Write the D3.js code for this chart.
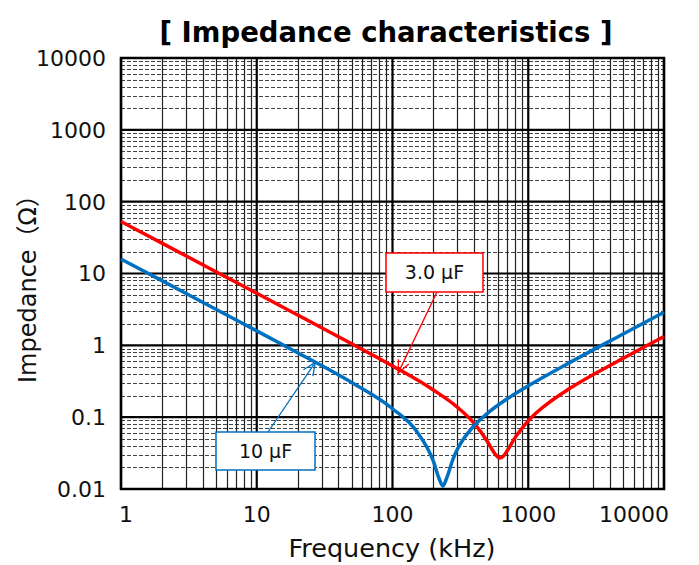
<!DOCTYPE html>
<html>
<head>
<meta charset="utf-8">
<script src="https://cdn.jsdelivr.net/npm/d3@7"></script>
<style>
  body { margin: 0; background: #fff; }
  text { font-family: "DejaVu Sans", Verdana, "Noto Sans CJK JP", sans-serif; }
</style>
</head>
<body>
<div id="chart"></div>
<script>
// Données (fréquence en kHz, impédance en ohms)
const freq10uF = [1, 2, 5, 10, 20, 50, 100, 150, 200, 220, 235, 250, 280, 300, 400, 500, 700, 1000, 2000, 5000, 10000];
const z10uF    = [15.9, 7.96, 3.18, 1.59, 0.79, 0.304, 0.131, 0.064, 0.0244, 0.0141, 0.011, 0.014, 0.0265, 0.0354, 0.0766, 0.113, 0.18, 0.273, 0.57, 1.44, 2.89];

const freq3uF = [1, 2, 5, 10, 20, 50, 100, 200, 300, 400, 500, 560, 600, 620, 650, 700, 800, 1000, 1500, 2000, 5000, 10000];
const z3uF    = [53.0, 26.5, 10.6, 5.3, 2.65, 1.054, 0.517, 0.239, 0.138, 0.082, 0.0458, 0.0321, 0.0276, 0.027, 0.0282, 0.0341, 0.0519, 0.089, 0.172, 0.248, 0.66, 1.33];

const xTicks = [1, 10, 100, 1000, 10000];
const yTicks = [0.01, 0.1, 1, 10, 100, 1000, 10000];

const width = 699;
const height = 565;
const margin = { top: 58, right: 35, bottom: 76, left: 121 };

const x = d3.scaleLog()
    .domain([1, 10000])
    .range([margin.left, width - margin.right]);

const y = d3.scaleLog()
    .domain([0.01, 10000])
    .range([height - margin.bottom, margin.top]);

const svg = d3.select("#chart").append("svg")
    .attr("width", width)
    .attr("height", height);

// Grille mineure
const minorX = [];
const minorY = [];
for (let d = 1; d < 10000; d *= 10) {
    for (let k = 2; k <= 9; k++) minorX.push(d * k);
}
for (let d = 0.01; d < 9999; d *= 10) {
    for (let k = 2; k <= 9; k++) minorY.push(+(d * k).toPrecision(3));
}

svg.append("g")
    .selectAll("line")
    .data(minorY)
    .join("line")
    .attr("x1", margin.left)
    .attr("x2", width - margin.right)
    .attr("y1", d => Math.round(y(d)) + 0.5)
    .attr("y2", d => Math.round(y(d)) + 0.5)
    .attr("stroke", "#444")
    .attr("stroke-width", 1)
    .attr("stroke-dasharray", "4,2");

svg.append("g")
    .selectAll("line")
    .data(minorX)
    .join("line")
    .attr("x1", d => Math.round(x(d)) + 0.5)
    .attr("x2", d => Math.round(x(d)) + 0.5)
    .attr("y1", margin.top)
    .attr("y2", height - margin.bottom)
    .attr("stroke", "#222")
    .attr("stroke-width", 1.2);

// Grille majeure
svg.append("g")
    .selectAll("line")
    .data(yTicks)
    .join("line")
    .attr("x1", margin.left)
    .attr("x2", width - margin.right)
    .attr("y1", d => y(d))
    .attr("y2", d => y(d))
    .attr("stroke", "#000")
    .attr("stroke-width", 2.2);

svg.append("g")
    .selectAll("line")
    .data(xTicks)
    .join("line")
    .attr("x1", d => x(d))
    .attr("x2", d => x(d))
    .attr("y1", margin.top)
    .attr("y2", height - margin.bottom)
    .attr("stroke", "#000")
    .attr("stroke-width", 2.2);

// Cadre
svg.append("rect")
    .attr("x", margin.left)
    .attr("y", margin.top)
    .attr("width", width - margin.left - margin.right)
    .attr("height", height - margin.top - margin.bottom)
    .attr("fill", "none")
    .attr("stroke", "#000")
    .attr("stroke-width", 2.5);

// Libellés des axes
svg.append("g")
    .selectAll("text")
    .data(yTicks)
    .join("text")
    .attr("x", 106)
    .attr("y", d => y(d))
    .attr("dy", "0.36em")
    .attr("text-anchor", "end")
    .attr("font-size", 22)
    .attr("fill", "#111")
    .text(d => d);

svg.append("g")
    .selectAll("text")
    .data(xTicks)
    .join("text")
    .attr("x", (d, i) => i === xTicks.length - 1 ? x(d) - 30 : x(d) + (i === 0 ? 5 : 0))
    .attr("y", 522)
    .attr("text-anchor", "middle")
    .attr("font-size", 22)
    .attr("fill", "#111")
    .text(d => d);

// Titres
svg.append("text")
    .attr("x", 386)
    .attr("y", 42)
    .attr("text-anchor", "middle")
    .attr("font-size", 27.5)
    .attr("font-weight", "bold")
    .text("[ Impedance characteristics ]");

svg.append("text")
    .attr("x", 392)
    .attr("y", 557)
    .attr("text-anchor", "middle")
    .attr("font-size", 25.5)
    .attr("fill", "#111")
    .text("Frequency (kHz)");

svg.append("text")
    .attr("transform", "translate(36,283) rotate(-90)")
    .attr("text-anchor", "middle")
    .attr("font-size", 24)
    .attr("fill", "#111")
    .text("Impedance（Ω）");

// Courbes
const line = d3.line()
    .x(d => x(d[0]))
    .y(d => y(d[1]))
    .curve(d3.curveMonotoneX);

svg.append("path")
    .datum(d3.zip(freq3uF, z3uF))
    .attr("fill", "none")
    .attr("stroke", "#ff0000")
    .attr("stroke-width", 3.5)
    .attr("d", line);

svg.append("path")
    .datum(d3.zip(freq10uF, z10uF))
    .attr("fill", "none")
    .attr("stroke", "#0070c0")
    .attr("stroke-width", 3.5)
    .attr("d", line);

// Annotations
function arrow(x1, y1, x2, y2, color) {
    const g = svg.append("g").attr("stroke", color).attr("stroke-width", 1.3).attr("fill", "none");
    g.append("line").attr("x1", x1).attr("y1", y1).attr("x2", x2).attr("y2", y2);
    const a = Math.atan2(y2 - y1, x2 - x1);
    const len = 14, spread = 0.42;
    g.append("path").attr("d",
        `M${x2 - len * Math.cos(a - spread)},${y2 - len * Math.sin(a - spread)}L${x2},${y2}L${x2 - len * Math.cos(a + spread)},${y2 - len * Math.sin(a + spread)}`);
}

arrow(437, 292, x(110), y(0.41), "#ff0000");
arrow(268, 432, x(27), y(0.58), "#0070c0");

svg.append("rect")
    .attr("x", 386).attr("y", 253).attr("width", 97).attr("height", 39)
    .attr("fill", "#fff").attr("stroke", "#ff0000").attr("stroke-width", 1.5);
svg.append("text")
    .attr("x", 434.5).attr("y", 272.5).attr("dy", "0.36em")
    .attr("text-anchor", "middle").attr("font-size", 19)
    .attr("fill", "#111")
    .text("3.0 μF");

svg.append("rect")
    .attr("x", 216).attr("y", 432).attr("width", 99).attr("height", 38)
    .attr("fill", "#fff").attr("stroke", "#0070c0").attr("stroke-width", 1.5);
svg.append("text")
    .attr("x", 265.5).attr("y", 451).attr("dy", "0.36em")
    .attr("text-anchor", "middle").attr("font-size", 19)
    .attr("fill", "#111")
    .text("10 μF");
</script>
</body>
</html>
